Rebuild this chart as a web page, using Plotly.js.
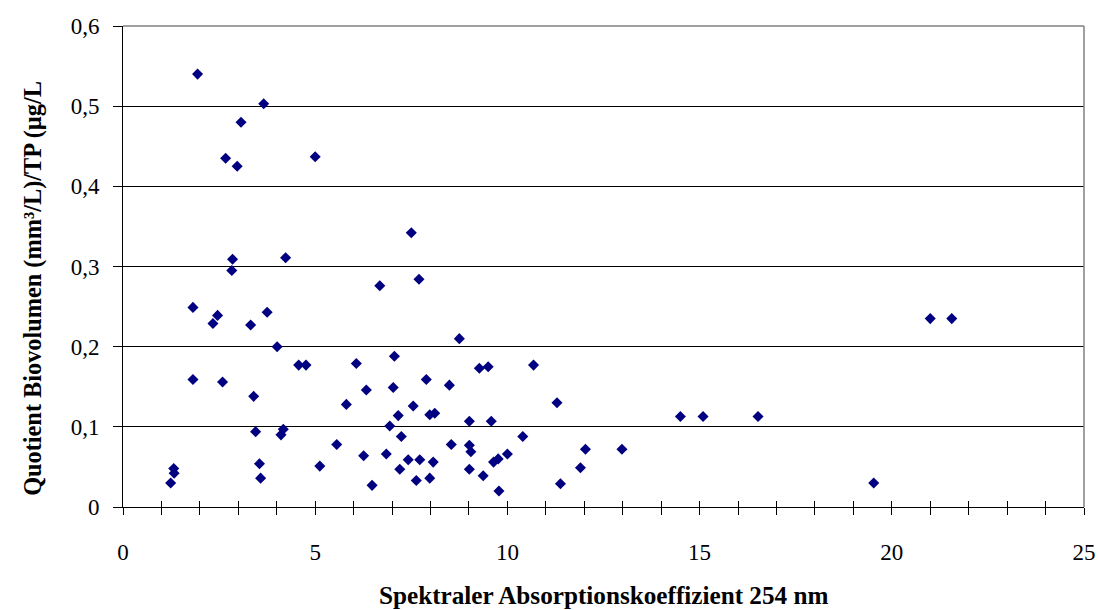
<!DOCTYPE html>
<html>
<head>
<meta charset="utf-8">
<script src="https://cdn.plot.ly/plotly-3.0.1.min.js"></script>
<style>html,body{margin:0;padding:0;background:#fff;}#chart{width:1098px;height:610px;}</style>
</head>
<body>
<div id="chart"></div>
<script>
// Spektraler Absorptionskoeffizient 254 nm
const absorption = [
  1.94, 3.66, 3.07, 2.67, 2.97, 5.00, 7.50, 2.85, 4.23, 2.83,
  6.68, 7.70, 1.82, 2.46, 2.34, 3.75, 3.32, 4.01, 4.57, 4.76,
  6.07, 7.06, 1.82, 2.59, 6.33, 7.03, 3.40, 5.81, 7.55, 7.16,
  3.45, 4.17, 4.11, 6.94, 7.24, 5.56, 6.26, 6.85, 7.42, 7.72,
  7.20, 7.63, 6.48, 5.12, 3.55, 3.58, 1.32, 1.33, 1.24, 8.75,
  9.27, 9.50, 10.68, 7.89, 8.49, 7.98, 8.11, 9.01, 9.58, 11.29,
  14.50, 8.54, 9.01, 9.05, 10.40, 12.03, 12.98, 8.07, 7.98, 9.01,
  9.37, 9.64, 9.76, 10.00, 9.78, 11.90, 11.38, 21.00, 21.56, 15.09,
  16.52, 19.53
];
// Quotient Biovolumen (mm³/L)/TP (µg/L)
const quotient = [
  0.540, 0.503, 0.480, 0.435, 0.425, 0.437, 0.342, 0.309, 0.311, 0.295,
  0.276, 0.284, 0.249, 0.239, 0.229, 0.243, 0.227, 0.200, 0.177, 0.177,
  0.179, 0.188, 0.159, 0.156, 0.146, 0.149, 0.138, 0.128, 0.126, 0.114,
  0.094, 0.097, 0.090, 0.101, 0.088, 0.078, 0.064, 0.066, 0.059, 0.059,
  0.047, 0.033, 0.027, 0.051, 0.054, 0.036, 0.048, 0.042, 0.030, 0.210,
  0.173, 0.175, 0.177, 0.159, 0.152, 0.115, 0.117, 0.107, 0.107, 0.130,
  0.113, 0.078, 0.077, 0.069, 0.088, 0.072, 0.072, 0.056, 0.036, 0.047,
  0.039, 0.056, 0.060, 0.066, 0.020, 0.049, 0.029, 0.235, 0.235, 0.113,
  0.113, 0.030
];
const xTickVals = [0, 5, 10, 15, 20, 25];
const xTickText = ['0', '5', '10', '15', '20', '25'];
const yTickVals = [0, 0.1, 0.2, 0.3, 0.4, 0.5, 0.6];
const yTickText = ['0', '0,1', '0,2', '0,3', '0,4', '0,5', '0,6'];
const xTitle = 'Spektraler Absorptionskoeffizient 254 nm';
const yTitle = 'Quotient Biovolumen (mm³/L)/TP (µg/L';

const serif = 'Liberation Serif, Times New Roman, serif';

const traces = [
  {
    x: absorption, y: quotient, type: 'scatter', mode: 'markers',
    marker: {symbol: 'diamond', size: 8.5, color: '#000080', line: {width: 0}},
    hoverinfo: 'x+y', showlegend: false
  },
  { x: [], y: [], xaxis: 'x2', yaxis: 'y', type: 'scatter', mode: 'markers', showlegend: false }
];

const layout = {
  width: 1098, height: 610,
  margin: {l: 122.5, r: 14, t: 25.5, b: 102.7, pad: 0},
  paper_bgcolor: '#ffffff', plot_bgcolor: '#ffffff',
  font: {family: serif, color: '#000000', size: 23},
  showlegend: false,
  xaxis: {
    range: [0, 25], tickvals: xTickVals, ticktext: xTickText,
    ticks: 'outside', ticklen: 7, tickwidth: 1, tickcolor: '#000',
    minor: {dtick: 1, tick0: 0, ticks: 'outside', ticklen: 7, tickwidth: 1, tickcolor: '#000', showgrid: false},
    showline: true, linecolor: '#000', linewidth: 1,
    showgrid: false, zeroline: false,
    ticklabelstandoff: 17,
    tickfont: {family: serif, size: 23, color: '#000'},
    automargin: false
  },
  xaxis2: {
    overlaying: 'x', anchor: 'y', side: 'bottom', matches: 'x',
    range: [0, 25], dtick: 1, tick0: 0,
    ticks: 'inside', ticklen: 6, tickwidth: 1, tickcolor: '#000',
    showticklabels: false, showline: false, showgrid: false, zeroline: false
  },
  yaxis: {
    range: [0, 0.6], tickvals: yTickVals, ticktext: yTickText,
    ticks: 'outside', ticklen: 9, tickwidth: 1, tickcolor: '#000',
    showline: true, linecolor: '#000', linewidth: 1,
    showgrid: true, gridcolor: '#000', gridwidth: 1,
    zeroline: false,
    ticklabelstandoff: 9,
    tickfont: {family: serif, size: 23, color: '#000'},
    automargin: false
  },
  shapes: [
    {type: 'line', xref: 'paper', yref: 'paper', x0: 0, x1: 1, y0: 1, y1: 1, line: {color: '#808080', width: 1.5}, layer: 'above'},
    {type: 'line', xref: 'paper', yref: 'paper', x0: 1, x1: 1, y0: 0, y1: 1, line: {color: '#808080', width: 1.5}, layer: 'above'}
  ],
  annotations: [
    {text: yTitle, textangle: -90, xref: 'paper', yref: 'paper', x: -0.094, y: 0.455,
     xanchor: 'center', yanchor: 'middle', showarrow: false,
     font: {family: serif, size: 24.3, color: '#000', weight: 'bold'}},
    {text: xTitle, xref: 'paper', yref: 'paper', x: 0.5, y: -0.185,
     xanchor: 'center', yanchor: 'middle', showarrow: false,
     font: {family: serif, size: 25.2, color: '#000', weight: 'bold'}}
  ]
};

Plotly.newPlot('chart', traces, layout, {displayModeBar: false, staticPlot: true});
</script>
</body>
</html>
